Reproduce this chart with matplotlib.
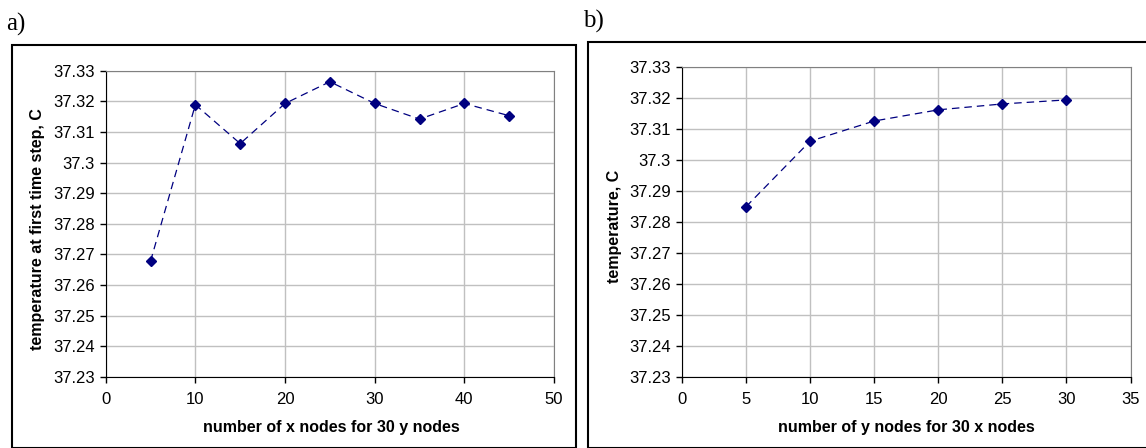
import matplotlib
matplotlib.use("Agg")
import matplotlib.pyplot as plt
from matplotlib.patches import Rectangle

# panel a) : x nodes for 30 y nodes
x_nodes = [5, 10, 15, 20, 25, 30, 35, 40, 45]
temp_a = [37.2678, 37.3189, 37.3062, 37.3193, 37.3264, 37.3193, 37.3142, 37.3193, 37.3153]

# panel b) : y nodes for 30 x nodes
y_nodes = [5, 10, 15, 20, 25, 30]
temp_b = [37.2849, 37.3060, 37.3125, 37.3161, 37.3180, 37.3193]

y_ticks = [37.23, 37.24, 37.25, 37.26, 37.27, 37.28, 37.29, 37.30, 37.31, 37.32, 37.33]
y_ticklabels = ["37.23", "37.24", "37.25", "37.26", "37.27", "37.28", "37.29", "37.3", "37.31", "37.32", "37.33"]

W, H = 1146, 448
navy = "#000080"
fig = plt.figure(figsize=(W / 100, H / 100), dpi=100)
sans = "Liberation Sans"
serif = "Liberation Serif"


def px_rect(x0, y0, x1, y1):
    return [x0 / W, 1 - y1 / H, (x1 - x0) / W, (y1 - y0) / H]


def style_axes(ax, xmax, xstep):
    ax.set_xlim(0, xmax)
    ax.set_ylim(37.23, 37.33)
    ax.set_xticks(range(0, xmax + 1, xstep))
    ax.set_yticks(y_ticks)
    ax.set_yticklabels(y_ticklabels)
    ax.grid(True, color="#c0c0c0", linewidth=1.0)
    ax.set_axisbelow(True)
    for s in ["top", "right"]:
        ax.spines[s].set_color("#808080")
    for s in ["left", "bottom"]:
        ax.spines[s].set_color("black")
    ax.tick_params(direction="out", length=4, width=1, labelsize=12, pad=4)
    for lab in ax.get_xticklabels() + ax.get_yticklabels():
        lab.set_fontfamily(sans)
    ax.tick_params(axis="x", pad=7)


# outer frames
fig.patches.append(Rectangle((12 / W, 0), (576 - 12) / W, 1 - 45 / H,
                             transform=fig.transFigure, fill=False,
                             edgecolor="black", linewidth=1.5))
fig.patches.append(Rectangle((588 / W, 0), (1150 - 588) / W, 1 - 42 / H,
                             transform=fig.transFigure, fill=False,
                             edgecolor="black", linewidth=1.5))

ax1 = fig.add_axes(px_rect(105.7, 70.7, 554, 377))
ax1.plot(x_nodes, temp_a, color=navy, linestyle=(0, (6, 4)), linewidth=0.9,
         marker="D", markersize=5, markerfacecolor=navy, markeredgecolor=navy)
style_axes(ax1, 50, 10)

ax2 = fig.add_axes(px_rect(682, 66.7, 1130.5, 377))
ax2.plot(y_nodes, temp_b, color=navy, linestyle=(0, (6, 4)), linewidth=0.9,
         marker="D", markersize=5, markerfacecolor=navy, markeredgecolor=navy)
style_axes(ax2, 35, 5)

# axis titles
fig.text(38 / W, 1 - 229 / H, "temperature at first time step, C", rotation=90,
         ha="center", va="center", fontsize=11.5, fontweight="bold", family=sans)
fig.text(331 / W, 1 - 427 / H, "number of x nodes for 30 y nodes",
         ha="center", va="center", fontsize=11.5, fontweight="bold", family=sans)
fig.text(614 / W, 1 - 226 / H, "temperature, C", rotation=90,
         ha="center", va="center", fontsize=11.5, fontweight="bold", family=sans)
fig.text(906 / W, 1 - 427 / H, "number of y nodes for 30 x nodes",
         ha="center", va="center", fontsize=11.5, fontweight="bold", family=sans)

# panel letters
fig.text(6 / W, 1 - 24 / H, "a)", ha="left", va="center", fontsize=18, family=serif)
fig.text(583 / W, 1 - 21 / H, "b)", ha="left", va="center", fontsize=18, family=serif)

fig.savefig("out.png", dpi=100)
